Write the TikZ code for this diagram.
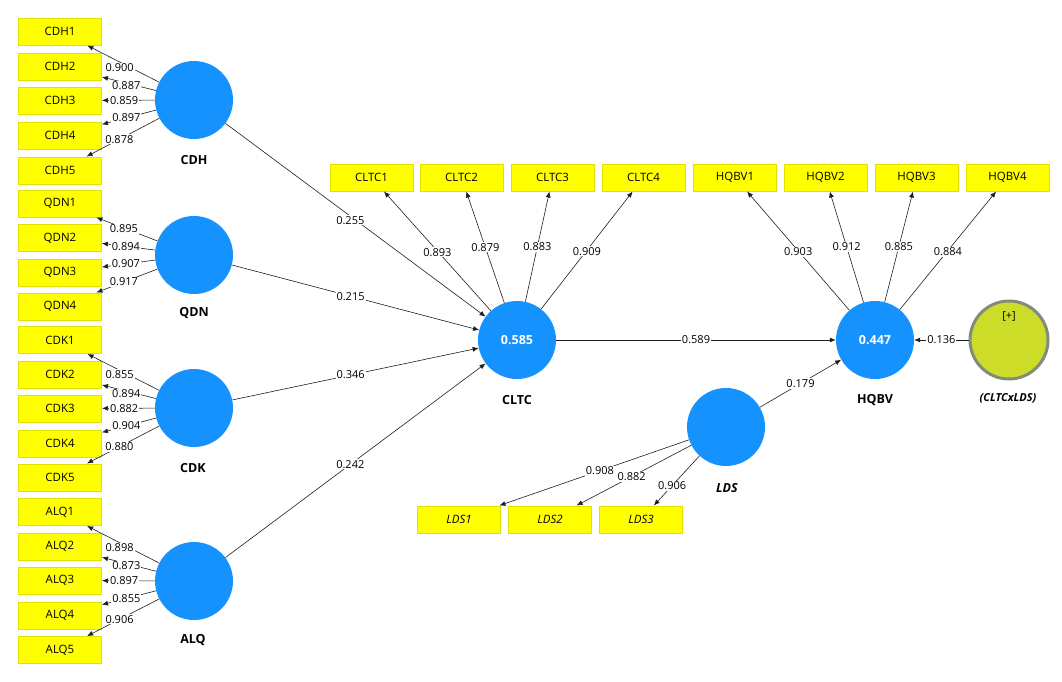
\documentclass[tikz,border=0pt]{standalone}
\usepackage{fontspec}
\setmainfont{Open Sans}
\usetikzlibrary{arrows.meta}
\definecolor{ybox}{RGB}{255,255,0}
\definecolor{yedge}{RGB}{225,225,0}
\definecolor{lvblue}{RGB}{22,146,255}
\definecolor{modfill}{RGB}{205,220,40}
\definecolor{modedge}{RGB}{130,140,125}
\definecolor{ln}{RGB}{30,30,30}
\begin{document}
\begin{tikzpicture}[x=1pt,y=-1pt,
 ind/.style={rectangle, draw=yedge, line width=1pt, fill=ybox, minimum width=83pt, minimum height=27pt, inner sep=0pt, font=\fontsize{11.5}{13}\selectfont},
 indit/.style={ind, font=\fontsize{11.5}{13}\selectfont\itshape},
 lv/.style={circle, fill=lvblue, minimum size=78pt, inner sep=0pt, font=\fontsize{12.5}{14}\selectfont\bfseries, text=white},
 lvname/.style={font=\fontsize{12.5}{14}\selectfont\bfseries},
 conn/.style={draw=ln, line width=0.6pt, -{Latex[length=6pt,width=5pt]}},
 ld/.style={fill=white, inner sep=1pt, font=\fontsize{11}{13}\selectfont}
]
\useasboundingbox (0,0) rectangle (1062,681);
% indicator boxes
\foreach \n/\y in {1/31.5,2/66.5,3/100.5,4/135.5,5/170.5} \node[ind] (CDH\n) at (60,\y) {CDH\n};
\foreach \n/\y in {1/203.5,2/238,3/272.5,4/306.5} \node[ind] (QDN\n) at (60,\y) {QDN\n};
\foreach \n/\y in {1/340,2/374.5,3/408.5,4/443.5,5/477.5} \node[ind] (CDK\n) at (60,\y) {CDK\n};
\foreach \n/\y in {1/512,2/546.5,3/580.5,4/615.5,5/650} \node[ind] (ALQ\n) at (60,\y) {ALQ\n};
\foreach \n/\x in {1/371.5,2/461.5,3/552.5,4/643.5} \node[ind] (CLTC\n) at (\x,177.5) {CLTC\n};
\foreach \n/\x in {1/735,2/825.5,3/916.5,4/1007.5} \node[ind] (HQBV\n) at (\x,177.5) {HQBV\n};
\foreach \n/\x in {1/459,2/550,3/641} \node[indit] (LDS\n) at (\x,519.5) {LDS\n};
% latent variables
\node[lv] (CDH) at (194,100) {};
\node[lv] (QDN) at (194,255) {};
\node[lv] (CDK) at (194,408) {};
\node[lv] (ALQ) at (194,581) {};
\node[lv] (CLTC) at (517,340) {0.585};
\node[lv] (HQBV) at (875,340) {0.447};
\node[lv] (LDS) at (726,427) {};
\node[circle, fill=modfill, draw=modedge, line width=3pt, minimum size=78pt, inner sep=0pt] (MOD) at (1009,340) {};
\node[font=\fontsize{11}{13}\selectfont] (MODplus) at (1009,316) {[+]};
% names
\node[lvname] (CDHn) at (194,160) {CDH};
\node[lvname] (QDNn) at (194,313) {QDN};
\node[lvname] (CDKn) at (193,468) {CDK};
\node[lvname] (ALQn) at (193,640) {ALQ};
\node[lvname] (CLTCn) at (517,400) {CLTC};
\node[lvname] (HQBVn) at (875,400) {HQBV};
\node[lvname, font=\fontsize{12.5}{14}\selectfont\bfseries\itshape] (LDSn) at (727,488) {LDS};
\node[lvname, font=\fontsize{11}{13}\selectfont\bfseries\itshape] (MODn) at (1008,398) {(CLTCxLDS)};
% connectors: lines first, labels afterwards
\def\edgelist{CDH/CDH1/0.55/0.900/-6, CDH/CDH2/0.55/0.887/-3, CDH/CDH3/0.58/0.859/0, CDH/CDH4/0.55/0.897/0, CDH/CDH5/0.55/0.878/0,
 QDN/QDN1/0.55/0.895/-1, QDN/QDN2/0.55/0.894/0, QDN/QDN3/0.55/0.907/0, QDN/QDN4/0.55/0.917/0,
 CDK/CDK1/0.55/0.855/-4, CDK/CDK2/0.55/0.894/-3, CDK/CDK3/0.58/0.882/0, CDK/CDK4/0.55/0.904/0, CDK/CDK5/0.55/0.880/0,
 ALQ/ALQ1/0.55/0.898/-5, ALQ/ALQ2/0.55/0.873/-2, ALQ/ALQ3/0.58/0.897/0, ALQ/ALQ4/0.55/0.855/0, ALQ/ALQ5/0.55/0.906/0,
 CLTC/CLTC1/0.5/0.893/-1, CLTC/CLTC2/0.5/0.879/0, CLTC/CLTC3/0.5/0.883/0, CLTC/CLTC4/0.5/0.909/-1,
 HQBV/HQBV1/0.5/0.903/-1, HQBV/HQBV2/0.5/0.912/0, HQBV/HQBV3/0.5/0.885/0, HQBV/HQBV4/0.5/0.884/-1,
 LDS/LDS1/0.47/0.908/0, LDS/LDS2/0.52/0.882/0, LDS/LDS3/0.6/0.906/0,
 CDH/CLTC/0.48/0.255/-4, QDN/CLTC/0.48/0.215/0, CDK/CLTC/0.48/0.346/0, ALQ/CLTC/0.48/0.242/0,
 CLTC/HQBV/0.5/0.589/0, LDS/HQBV/0.5/0.179/0, MOD/HQBV/0.5/0.136/0}
\foreach \a/\b/\p/\v/\s in \edgelist \draw[conn] (\a) -- (\b);
\foreach \a/\b/\p/\v/\s in \edgelist \path (\a) -- (\b) node[ld,pos=\p,yshift=\s pt] {\v};
\end{tikzpicture}
\end{document}
